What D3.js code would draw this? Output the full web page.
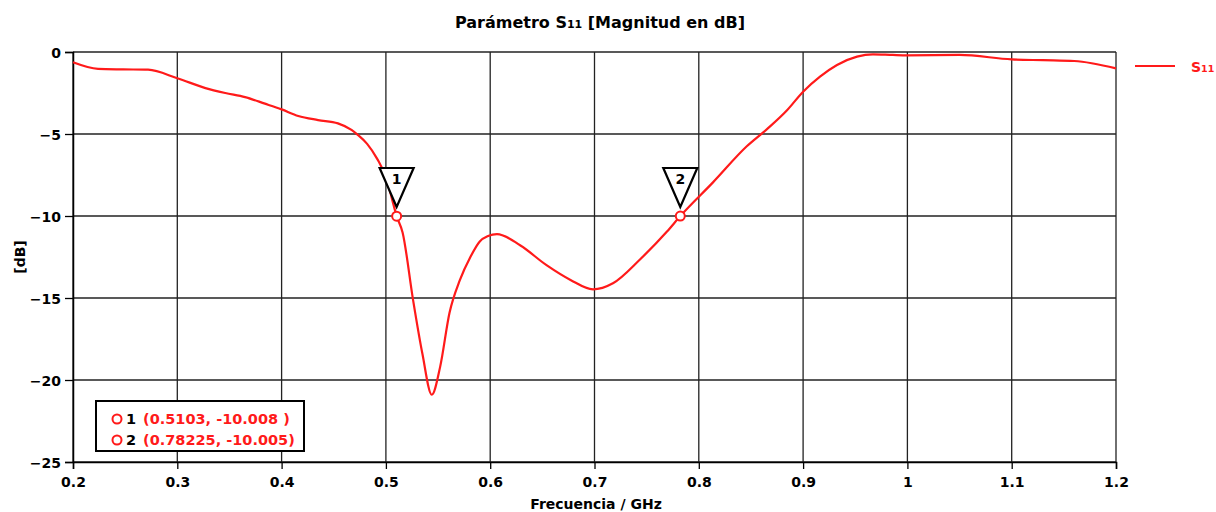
<!DOCTYPE html>
<html><head><meta charset="utf-8">
<script src="https://cdn.jsdelivr.net/npm/d3@7"></script>
<style>
body{margin:0;background:#fff;}
text{font-family:"DejaVu Sans",Verdana,sans-serif;font-weight:bold;}
</style></head>
<body><svg id="c" width="1216" height="512"></svg>
<script>
const freq = [0.2,0.224,0.248,0.272,0.3,0.327,0.346,0.365,0.384,0.4,0.416,0.435,0.454,0.467,0.473,0.482,0.4915,0.501,0.506,0.5103,0.516,0.526,0.535,0.544,0.552,0.561,0.571,0.581,0.590,0.598,0.6065,0.629,0.654,0.677,0.6986,0.7177,0.7436,0.7695,0.78225,0.8136,0.846,0.8654,0.8846,0.900,0.9162,0.9325,0.9517,0.967,0.986,1.0,1.05,1.1,1.13,1.16,1.2];
const s11 = [-0.63,-1.03,-1.06,-1.08,-1.6,-2.2,-2.5,-2.75,-3.15,-3.5,-3.9,-4.15,-4.35,-4.75,-5.05,-5.6,-6.5,-7.8,-9.0,-10.008,-11.0,-15.1,-18.4,-20.9,-19.2,-15.9,-13.9,-12.5,-11.55,-11.22,-11.1,-11.8,-13.0,-13.9,-14.47,-14.1,-12.65,-10.95,-10.005,-7.95,-5.75,-4.7,-3.55,-2.42,-1.5,-0.79,-0.28,-0.14,-0.18,-0.2,-0.18,-0.45,-0.5,-0.55,-1.0];
const xTicks = [0.2,0.3,0.4,0.5,0.6,0.7,0.8,0.9,1,1.1,1.2];
const xTickLabels = ["0.2","0.3","0.4","0.5","0.6","0.7","0.8","0.9","1","1.1","1.2"];
const yTicks = [0,-5,-10,-15,-20,-25];
const markerIds = ["1","2"];
const markerX = [0.5103,0.78225];
const markerY = [-10.008,-10.005];
const markerLabels = ["(0.5103, -10.008 )","(0.78225, -10.005)"];

const svg = d3.select("#c");
const x = d3.scaleLinear().domain([0.2,1.2]).range([73,1116]);
const y = d3.scaleLinear().domain([-25,0]).range([462,52]);

// grid
svg.append("g").selectAll("line").data(xTicks).join("line")
  .attr("x1",d=>x(d)).attr("x2",d=>x(d)).attr("y1",y(0)).attr("y2",y(-25))
  .attr("stroke","#222").attr("stroke-width",1.3);
svg.append("g").selectAll("line").data(yTicks).join("line")
  .attr("x1",x(0.2)).attr("x2",x(1.2)).attr("y1",d=>y(d)).attr("y2",d=>y(d))
  .attr("stroke","#222").attr("stroke-width",1.3);

// axes
const xa = svg.append("g").attr("transform",`translate(0,${y(-25)})`)
  .call(d3.axisBottom(x).tickValues(xTicks).tickFormat((d,i)=>xTickLabels[i]).tickSizeOuter(0).tickSize(7).tickPadding(8));
const ya = svg.append("g").attr("transform",`translate(${x(0.2)},0)`)
  .call(d3.axisLeft(y).tickValues(yTicks).tickFormat(d=>d===0?"0":d3.format("d")(d)).tickSizeOuter(0).tickSize(8).tickPadding(4));
[xa,ya].forEach(a=>{
  a.selectAll("text").attr("font-size",14).attr("fill","#000").style("font-family","DejaVu Sans").style("font-weight","bold");
  a.select(".domain").attr("stroke","#000").attr("stroke-width",1.5);
  a.selectAll(".tick line").attr("stroke","#000").attr("stroke-width",1.3);
});
ya.selectAll("text").attr("dy","0.36em");

// curve
const line = d3.line().x((d,i)=>x(freq[i])).y(d=>y(d)).curve(d3.curveMonotoneX);
svg.append("path").datum(s11).attr("d",line).attr("fill","none").attr("stroke","#ff1a1a").attr("stroke-width",2.2);

// markers
markerX.forEach((mx,i)=>{
  const px = x(mx), py = y(markerY[i]);
  svg.append("path").attr("d",`M${px-17},${168}L${px+17},${168}L${px},${207}Z`)
    .attr("fill","#fff").attr("stroke","#000").attr("stroke-width",2.2);
  svg.append("text").attr("x",px).attr("y",184).attr("text-anchor","middle").attr("font-size",14).text(markerIds[i]);
  svg.append("circle").attr("cx",px).attr("cy",py).attr("r",4.5).attr("fill","#fff").attr("stroke","#ff1a1a").attr("stroke-width",2);
});

// marker table
svg.append("rect").attr("x",96).attr("y",401).attr("width",208).attr("height",50).attr("fill","#fff").attr("stroke","#000").attr("stroke-width",2);
markerIds.forEach((m,i)=>{
  const ty = 424 + i*21;
  svg.append("circle").attr("cx",117).attr("cy",ty-5).attr("r",4.5).attr("fill","#fff").attr("stroke","#ff1a1a").attr("stroke-width",2);
  svg.append("text").attr("x",126).attr("y",ty).attr("font-size",14.5).attr("fill","#000").text(m);
  svg.append("text").attr("x",143).attr("y",ty).attr("font-size",14.5).attr("fill","#ff1a1a").text(markerLabels[i]);
});

// title
const t = svg.append("text").attr("x",600).attr("y",28).attr("text-anchor","middle").attr("font-size",16);
t.append("tspan").text("Parámetro S");
t.append("tspan").attr("font-size",11).text("11");
t.append("tspan").text(" [Magnitud en dB]");

// axis labels
svg.append("text").attr("transform","translate(25,257) rotate(-90)").attr("text-anchor","middle").attr("font-size",14).text("[dB]");
svg.append("text").attr("x",596).attr("y",509).attr("text-anchor","middle").attr("font-size",14).text("Frecuencia / GHz");

// legend
svg.append("line").attr("x1",1135).attr("x2",1175).attr("y1",66).attr("y2",66).attr("stroke","#ff1a1a").attr("stroke-width",2.2);
const lt = svg.append("text").attr("x",1191).attr("y",72).attr("font-size",14).attr("fill","#ff1a1a");
lt.append("tspan").text("S");
lt.append("tspan").attr("font-size",9.5).text("11");
</script></body></html>
